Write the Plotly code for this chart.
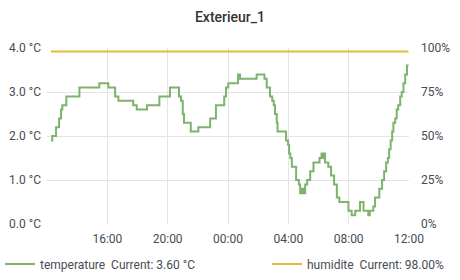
import plotly.graph_objects as go

# --- data ---
temp_times = ["12:16","12:21","12:36","12:48","12:56","13:01","13:17","14:09","15:28","16:04",
              "16:31","16:44","17:43","17:57","18:38","19:27","20:09","20:45","20:53","21:00",
              "21:05","21:32","22:02","22:49","23:12","23:45","23:52",
              "+00:01","+00:40","+00:48","+01:54","+02:25","+02:34","+02:47","+02:56","+03:02",
              "+03:07","+03:14","+03:17","+03:51","+03:59","+04:03","+04:08","+04:14","+04:31",
              "+04:42","+04:47","+04:55","+04:59","+05:07","+05:15","+05:27","+05:40","+06:04",
              "+06:12","+06:18","+06:22","+06:26","+06:39","+06:50","+07:02","+07:13","+07:23",
              "+07:59","+08:12","+08:26","+08:45","+08:59","+09:18","+09:24","+09:38","+09:45",
              "+10:02","+10:13","+10:21","+10:29","+10:36","+10:41","+10:47","+10:53","+10:58",
              "+11:05","+11:11","+11:17","+11:25","+11:31","+11:38","+11:45","+11:52","+11:58"]
temp_values = [1.9,2.0,2.2,2.4,2.6,2.7,2.9,3.1,3.2,3.1,
               2.9,2.8,2.7,2.6,2.7,2.9,3.1,2.9,2.8,2.5,
               2.3,2.1,2.2,2.4,2.7,2.9,3.1,
               3.2,3.4,3.3,3.4,3.3,3.1,2.9,2.8,2.7,
               2.5,2.3,2.1,1.9,1.8,1.6,1.5,1.3,1.0,
               0.9,0.7,0.8,0.7,0.9,1.0,1.2,1.4,1.5,
               1.6,1.5,1.6,1.4,1.3,1.1,0.9,0.6,0.5,
               0.3,0.2,0.3,0.5,0.3,0.2,0.3,0.4,0.6,
               0.8,1.0,1.2,1.4,1.5,1.7,1.9,2.1,2.3,
               2.4,2.6,2.7,2.9,3.0,3.2,3.4,3.6,3.6]
hum_times = ["12:16", "+11:58"]
hum_values = [98.0, 98.0]

x_tick_times = ["16:00", "20:00", "+00:00", "+04:00", "+08:00", "+12:00"]
x_tick_labels = ["16:00", "20:00", "00:00", "04:00", "08:00", "12:00"]
temp_ticks = [0, 1, 2, 3, 4]
temp_tick_labels = ["0.0 °C", "1.0 °C", "2.0 °C", "3.0 °C", "4.0 °C"]
hum_ticks = [0, 25, 50, 75, 100]
hum_tick_labels = ["0%", "25%", "50%", "75%", "100%"]

DAY1, DAY2 = "2021-01-01", "2021-01-02"

def to_ts(t):
    return (DAY2 + " " + t[1:]) if t.startswith("+") else (DAY1 + " " + t)

tx = [to_ts(t) for t in temp_times]
hx = [to_ts(t) for t in hum_times]
tickvals = [to_ts(t) for t in x_tick_times]

GREEN = "#7EB26D"
YELLOW = "#EAB839"
GRID = "#e4e4e4"
TXT = "#464c54"

fig = go.Figure()
fig.add_trace(go.Scatter(x=tx, y=temp_values, mode="lines", line=dict(color=GREEN, width=2, shape="hv"),
                         name="temperature  Current: 3.60 °C", yaxis="y", legend="legend"))
fig.add_trace(go.Scatter(x=hx, y=hum_values, mode="lines", line=dict(color=YELLOW, width=2, shape="hv"),
                         name="humidite  Current: 98.00%", yaxis="y2", legend="legend2"))

fig.update_layout(
    width=460, height=280,
    margin=dict(l=47, r=51, t=48, b=56, pad=0),
    paper_bgcolor="white", plot_bgcolor="white",
    font=dict(family="Roboto", size=12, color=TXT),
    title=dict(text="Exterieur_1", x=0.5, xanchor="center", y=1 - 17/280, yanchor="middle",
               font=dict(family="Roboto", size=14, color="#333", weight=500)),
    xaxis=dict(type="date", range=[DAY1 + " 12:00", DAY2 + " 12:00"], tickvals=tickvals,
               ticktext=x_tick_labels, showgrid=True, gridcolor=GRID, gridwidth=1,
               zeroline=False, showline=False, ticks="", ticklabelstandoff=6, automargin=False),
    yaxis=dict(range=[0, 4], tickvals=temp_ticks, ticktext=temp_tick_labels,
               showgrid=True, gridcolor=GRID, zeroline=False, showline=False, ticks="",
               ticklabelstandoff=5, automargin=False),
    yaxis2=dict(range=[0, 100], tickvals=hum_ticks, ticktext=hum_tick_labels, overlaying="y",
                side="right", showgrid=False, zeroline=False, showline=False, ticks="",
                ticklabelstandoff=11, automargin=False),
    legend=dict(orientation="h", xref="container", yref="container", x=0, xanchor="left",
                y=1 - 264/280, yanchor="middle", font=dict(size=12, color=TXT), itemwidth=30,
                bgcolor="rgba(0,0,0,0)"),
    legend2=dict(orientation="h", xref="container", yref="container", x=267/460, xanchor="left",
                 y=1 - 264/280, yanchor="middle", font=dict(size=12, color=TXT), itemwidth=30,
                 bgcolor="rgba(0,0,0,0)"),
    showlegend=True,
)

fig.write_html("out.html")
